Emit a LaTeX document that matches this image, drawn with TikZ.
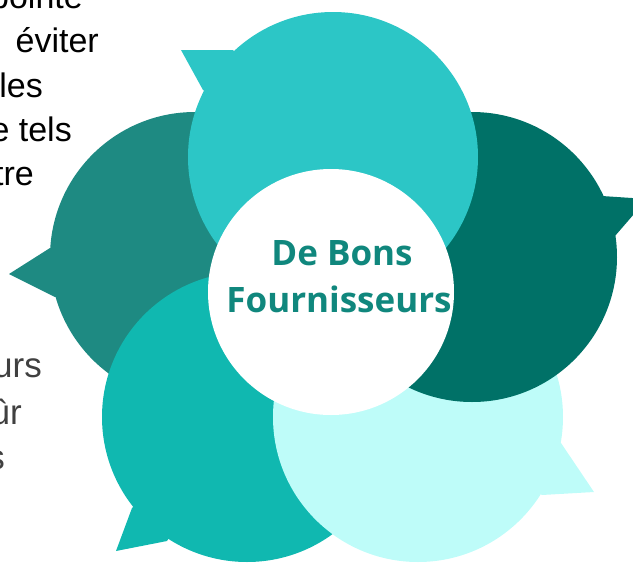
\documentclass[tikz,border=0pt]{standalone}
\usepackage{fontspec}
\setmainfont{Liberation Sans}
\newfontfamily\hubfont{Open Sans}
\definecolor{petalLeft}{RGB}{30,138,130}
\definecolor{petalLow}{RGB}{16,184,176}
\definecolor{petalMint}{RGB}{190,252,249}
\definecolor{petalRight}{RGB}{0,113,103}
\definecolor{petalTop}{RGB}{44,198,198}
\definecolor{hubText}{RGB}{16,135,125}
\definecolor{sideGray}{RGB}{64,64,64}
\begin{document}
\begin{tikzpicture}[x=1pt,y=-1pt,
  sidetext/.style={anchor=base east, inner sep=0pt, font=\fontsize{34}{40}\selectfont},
  graytext/.style={sidetext, text=sideGray, font=\fontsize{35}{42}\selectfont},
  hubline/.style={anchor=base, inner sep=0pt, text=hubText, font=\hubfont\bfseries\fontsize{35}{42}\selectfont}]
\useasboundingbox (0,0) rectangle (633,563);
\clip (0,0) rectangle (633,563);

% paragraph running off the left edge
\node[sidetext] (s1) at (83,8) {pointe};
\node[sidetext] (s2) at (99,52) {éviter};
\node[sidetext] (s3) at (43,97) {les};
\node[sidetext] (s4) at (72,141) {e tels};
\node[sidetext] (s5) at (34,185) {tre};
\node[graytext] (g1) at (42,377) {urs};
\node[graytext] (g2) at (22,424) {ûr};
\node[graytext] (g3) at (5,469) {s};

% speech-bubble petals, back to front
\coordinate (cL) at (195,257);
\fill[petalLeft] (cL) circle (145pt);
\fill[petalLeft] (50,248) -- (9,274) -- (55,297) -- (cL) -- cycle;

\coordinate (cBL) at (247,417);
\fill[petalLow] (cBL) circle (145pt);
\fill[petalLow] (132,508) -- (116,551) -- (167,541) -- (cBL) -- cycle;

\coordinate (cBR) at (418,417);
\fill[petalMint] (cBR) circle (145pt);
\fill[petalMint] (561,443) -- (594,492) -- (542,495) -- (cBR) -- cycle;

\coordinate (cR) at (472,257);
\fill[petalRight] (cR) circle (145pt);
\fill[petalRight] (602,196) -- (647,199) -- (615,236) -- (cR) -- cycle;

\coordinate (cT) at (333,157);
\fill[petalTop] (cT) circle (145pt);
\fill[petalTop] (233,50) -- (181,50) -- (203,90) -- (cT) -- cycle;

% centre disc and title
\node[circle, fill=white, minimum size=246pt, inner sep=0pt] (hub) at (331,292) {};
\node[hubline] (t1) at (342,265) {De Bons};
\node[hubline] (t2) at (339,312) {Fournisseurs};
\end{tikzpicture}
\end{document}
